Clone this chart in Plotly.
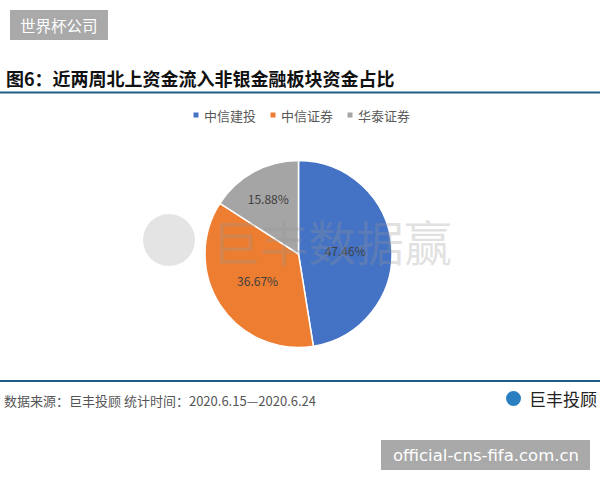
import plotly.graph_objects as go

labels = ["中信建投", "中信证券", "华泰证券"]
values = [47.46, 36.67, 15.88]
colors = ["#4472C4", "#ED7D31", "#A5A5A5"]
title_text = "图6：近两周北上资金流入非银金融板块资金占比"
source_text = "数据来源：巨丰投顾 统计时间：2020.6.15—2020.6.24"

W, H = 600, 480
def px(x):
    return x / W
def py(y):
    return 1 - y / H

FONT = "Noto Sans CJK SC"

fig = go.Figure()
fig.add_trace(go.Pie(
    labels=labels, values=values, sort=False, direction="clockwise", rotation=0,
    marker=dict(colors=colors, line=dict(color="white", width=1.5)),
    texttemplate="%{value:.2f}%", textposition="inside",
    insidetextorientation="horizontal",
    textfont=dict(family=FONT, size=12, color="#404040"),
    domain=dict(x=[px(298.5 - 93.5), px(298.5 + 93.5)], y=[py(254 + 93.5), py(254 - 93.5)]),
    hoverinfo="label+percent",
    showlegend=False,
))

shapes = [
    dict(type="rect", xref="paper", yref="paper", x0=px(10), x1=px(108), y0=py(40), y1=py(10),
         fillcolor="#a9a9a9", line=dict(width=0), layer="above"),
    dict(type="rect", xref="paper", yref="paper", x0=px(381), x1=px(590), y0=py(470), y1=py(440),
         fillcolor="#a9a9a9", line=dict(width=0), layer="above"),
    dict(type="line", xref="paper", yref="paper", x0=0, x1=1, y0=py(92.5), y1=py(92.5),
         line=dict(color="#1f5c87", width=2)),
    dict(type="line", xref="paper", yref="paper", x0=0, x1=1, y0=py(381), y1=py(381),
         line=dict(color="#1f5c87", width=2)),
    dict(type="circle", xref="paper", yref="paper", x0=px(143), x1=px(195), y0=py(266), y1=py(214),
         fillcolor="rgba(205,205,205,0.55)", line=dict(width=0), layer="below"),
    dict(type="circle", xref="paper", yref="paper", x0=px(506), x1=px(521), y0=py(406), y1=py(391),
         fillcolor="#2a7fc0", line=dict(width=0)),
]

annotations = [
    dict(text="世界杯公司", x=px(59), y=py(25), xref="paper", yref="paper", showarrow=False,
         font=dict(family=FONT, size=15.5, color="white"), xanchor="center", yanchor="middle"),
    dict(text="official-cns-fifa.com.cn", x=px(485.5), y=py(455), xref="paper", yref="paper", showarrow=False,
         font=dict(family="DejaVu Sans", size=16.5, color="white"), xanchor="center", yanchor="middle"),
    dict(text="<b>" + title_text + "</b>", x=px(4), y=py(78), xref="paper", yref="paper", showarrow=False,
         font=dict(family=FONT, size=18, color="#111111"), xanchor="left", yanchor="middle"),
    dict(text="巨丰数据赢", x=px(332), y=py(240), xref="paper", yref="paper", showarrow=False,
         font=dict(family=FONT, size=48, color="rgba(150,150,150,0.28)"), xanchor="center", yanchor="middle"),
    dict(text=source_text, x=px(2), y=py(400), xref="paper", yref="paper", showarrow=False,
         font=dict(family=FONT, size=13, color="#555555"), xanchor="left", yanchor="middle"),
    dict(text="巨丰投顾", x=px(527), y=py(398), xref="paper", yref="paper", showarrow=False,
         font=dict(family=FONT, size=17, color="#222222"), xanchor="left", yanchor="middle"),
]

# legend built from the data lists
legend_marker_x = [196, 273, 350]
for lab, col, mx in zip(labels, colors, legend_marker_x):
    shapes.append(dict(type="rect", xref="paper", yref="paper",
                       x0=px(mx - 2.5), x1=px(mx + 2.5), y0=py(117.5), y1=py(112.5),
                       fillcolor=col, line=dict(width=0)))
    annotations.append(dict(text=lab, x=px(mx + 6), y=py(115), xref="paper", yref="paper",
                            showarrow=False, xanchor="left", yanchor="middle",
                            font=dict(family=FONT, size=13, color="#595959")))

fig.update_layout(
    width=W, height=H, margin=dict(l=0, r=0, t=0, b=0),
    paper_bgcolor="white", plot_bgcolor="white",
    showlegend=False,
    shapes=shapes, annotations=annotations,
)

fig.write_html("out.html", config={"displayModeBar": False},
               post_script="document.body.style.margin='0px';document.body.style.padding='0px';")
